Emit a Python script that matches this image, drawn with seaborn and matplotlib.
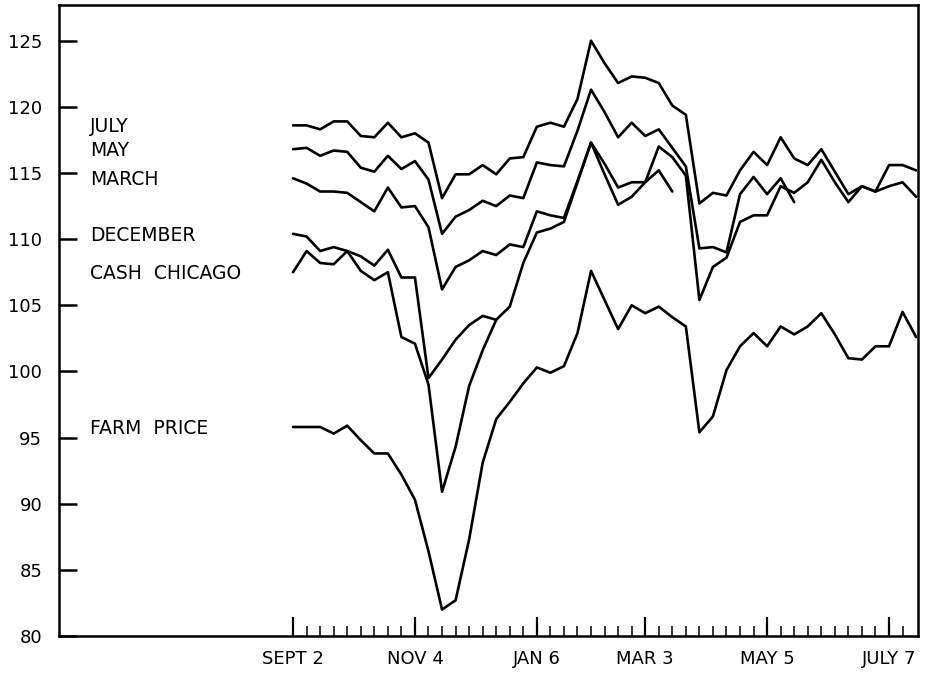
import matplotlib
matplotlib.use("Agg")
import matplotlib.pyplot as plt
import pandas as pd
import seaborn as sns

# weekly quotations, week 0 = Sept 2
july = [118.6, 118.6, 118.3, 118.9, 118.9, 117.8, 117.7, 118.8, 117.7, 118.0,
        117.3, 113.1, 114.9, 114.9, 115.6, 114.9, 116.1, 116.2, 118.5, 118.8,
        118.5, 120.6, 125.0, 123.3, 121.8, 122.3, 122.2, 121.8, 120.1, 119.4,
        112.7, 113.5, 113.3, 115.2, 116.6, 115.6, 117.7, 116.1, 115.6, 116.8,
        115.1, 113.4, 114.0, 113.6, 115.6, 115.6, 115.2]
may = [116.8, 116.9, 116.3, 116.7, 116.6, 115.4, 115.1, 116.3, 115.3, 115.9,
       114.5, 110.4, 111.7, 112.2, 112.9, 112.5, 113.3, 113.1, 115.8, 115.6,
       115.5, 118.2, 121.3, 119.6, 117.7, 118.8, 117.8, 118.3, 116.9, 115.5,
       109.3, 109.4, 109.0, 113.4, 114.7, 113.4, 114.6, 112.8]
march = [114.6, 114.2, 113.6, 113.6, 113.5, 112.8, 112.1, 113.9, 112.4, 112.5,
         110.9, 106.2, 107.9, 108.4, 109.1, 108.8, 109.6, 109.4, 112.1, 111.8,
         111.6, 114.4, 117.3, 115.7, 113.9, 114.3, 114.3, 115.2, 113.6]
december = [110.4, 110.2, 109.1, 109.4, 109.1, 108.7, 108.0, 109.2, 107.1, 107.1,
            99.5, 100.9, 102.4, 103.5, 104.2, 103.9]
cash_chicago = [107.5, 109.1, 108.2, 108.1, 109.1, 107.6, 106.9, 107.5, 102.6, 102.1,
                99.0, 90.9, 94.3, 98.9, 101.6, 103.9, 104.9, 108.2, 110.5, 110.8,
                111.3, 114.3, 117.3, 114.9, 112.6, 113.2, 114.3, 117.0, 116.2, 114.8,
                105.4, 107.9, 108.6, 111.3, 111.8, 111.8, 114.0, 113.5, 114.3, 116.0,
                114.3, 112.8, 114.0, 113.6, 114.0, 114.3, 113.2]
farm_price = [95.8, 95.8, 95.8, 95.3, 95.9, 94.8, 93.8, 93.8, 92.2, 90.3,
              86.4, 82.0, 82.7, 87.3, 93.1, 96.4, 97.7, 99.1, 100.3, 99.9,
              100.4, 102.9, 107.6, 105.4, 103.2, 105.0, 104.4, 104.9, 104.1, 103.4,
              95.4, 96.6, 100.1, 101.9, 102.9, 101.9, 103.4, 102.8, 103.4, 104.4,
              102.8, 101.0, 100.9, 101.9, 101.9, 104.5, 102.6]

series_names = ["JULY", "MAY", "MARCH", "DECEMBER", "CASH  CHICAGO", "FARM  PRICE"]
series_values = [july, may, march, december, cash_chicago, farm_price]

date_weeks = [0, 9, 18, 26, 35, 44]
date_labels = ["SEPT 2", "NOV 4", "JAN 6", "MAR 3", "MAY 5", "JULY 7"]
y_ticks = [80, 85, 90, 95, 100, 105, 110, 115, 120, 125]

# long table for seaborn
rows = []
for name, vals in zip(series_names, series_values):
    for wk, v in enumerate(vals):
        rows.append({"week": wk, "price": v, "series": name})
df = pd.DataFrame(rows)

sns.set_style("white")
plt.rcParams["font.family"] = ["DejaVu Sans"]

fig = plt.figure(figsize=(9.25, 6.73), dpi=100)
ax = fig.add_axes([59 / 925, 37 / 673, (918 - 59) / 925, (668 - 37) / 673])

sns.lineplot(data=df, x="week", y="price", hue="series", hue_order=series_names,
             palette=["black"] * len(series_names), linewidth=1.9,
             legend=False, errorbar=None, ax=ax)

# series names at the left, level with where each line starts
for name, vals in zip(series_names, series_values):
    ax.text(-15, vals[0] - 0.1, name, ha="left", va="center", fontsize=13.5, color="black")

ax.set_xlim(-17.28, 46.14)
ax.set_ylim(80, 127.7)

ax.set_yticks(y_ticks)
ax.set_yticklabels([str(t) for t in y_ticks])
ax.set_xticks(date_weeks)
ax.set_xticklabels(date_labels)
ax.set_xticks(list(range(0, 46)), minor=True)

ax.tick_params(axis="y", direction="in", length=13, width=1.8, pad=12,
               labelsize=13, colors="black", left=True)
ax.tick_params(axis="x", which="major", direction="in", length=14, width=1.6,
               pad=10, labelsize=13, colors="black", bottom=True)
ax.tick_params(axis="x", which="minor", direction="in", length=7, width=1.3,
               bottom=True)

ax.set_xlabel("")
ax.set_ylabel("")
for sp in ax.spines.values():
    sp.set_visible(True)
    sp.set_color("black")
    sp.set_linewidth(1.8)

fig.savefig("out.png", dpi=100, facecolor="white")
